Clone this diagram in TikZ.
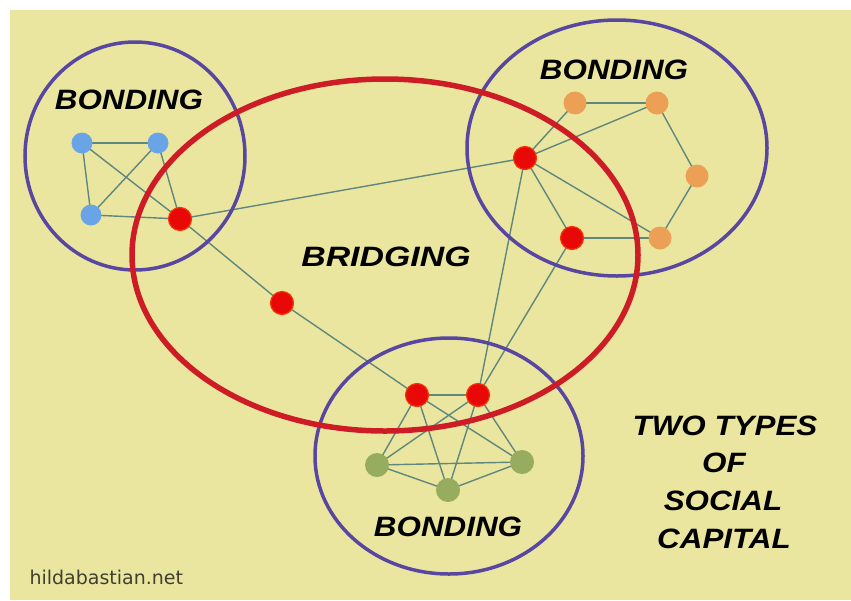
\documentclass[tikz,border=0pt]{standalone}
\usepackage{fontspec}
\usepackage{xcolor}
\newfontfamily\comicfont{Liberation Sans}
\newfontfamily\webfont{DejaVu Sans}
\usetikzlibrary{calc,positioning}
\definecolor{paper}{RGB}{234,230,160}
\definecolor{tiecol}{RGB}{95,135,125}
\definecolor{ringcol}{RGB}{88,70,160}
\definecolor{bridgecol}{RGB}{205,28,38}
\definecolor{nodered}{RGB}{232,8,8}
\definecolor{nodeblue}{RGB}{105,165,230}
\definecolor{nodeorange}{RGB}{236,160,85}
\definecolor{nodegreen}{RGB}{150,172,95}
\tikzset{hand/.style={font=\comicfont\bfseries\itshape\fontsize{28}{30}\selectfont,xscale=1.12}}

\begin{document}
\begin{tikzpicture}[x=1pt,y=-1pt,
                    link/.style={draw=tiecol,line width=1.4pt},
                    ring/.style={draw=ringcol,line width=3.5pt},
                    dot/.style={circle,inner sep=0pt},
                    red node/.style={dot,fill=nodered,draw=nodered!60!orange,line width=1.2pt,minimum size=23pt},
                    blue node/.style={dot,fill=nodeblue,minimum size=21pt},
                    orange node/.style={dot,fill=nodeorange,minimum size=23pt},
                    green node/.style={dot,fill=nodegreen,minimum size=24pt}]
 % paper
 \fill[white] (0,0) rectangle (851,600);
 \fill[paper] (10,10) rectangle (851,600);

 % left group
 \coordinate (B1) at (82,143);
 \coordinate (B2) at (158,143);
 \coordinate (B3) at (91,215);
 \coordinate (R1) at (180,219);
 % right group
 \coordinate (O1) at (575,103);
 \coordinate (O2) at (657,103);
 \coordinate (O3) at (697,176);
 \coordinate (O4) at (660,238);
 \coordinate (R2) at (525,158);
 \coordinate (R3) at (572,238);
 % middle and bottom group
 \coordinate (R6) at (282,303);
 \coordinate (R4) at (417,395);
 \coordinate (R5) at (478,395);
 \coordinate (G1) at (377,465);
 \coordinate (G2) at (448,490);
 \coordinate (G3) at (522,462);

 \foreach \a/\b in {B1/B2,B1/B3,B1/R1,B2/B3,B2/R1,B3/R1,
                    O1/O2,O2/O3,O3/O4,R3/O4,R2/O1,R2/O2,R2/O4,R2/R3,
                    R1/R2,R1/R6,R6/R4,R2/R5,R3/R5,
                    R4/R5,R4/G1,R4/G2,R4/G3,R5/G1,R5/G2,R5/G3,G1/G2,G2/G3,G1/G3}
    \draw[link] (\a)--(\b);

 % groups
 \draw[ring] (135,156) ellipse [x radius=110, y radius=114];
 \draw[ring] (617,148) ellipse [x radius=150, y radius=128];
 \draw[ring] (449,456) ellipse [x radius=134, y radius=118];
 \draw[draw=bridgecol,line width=5.5pt] (385,255) ellipse [x radius=253, y radius=176];

 \foreach \n in {B1,B2,B3} \node[blue node] (\n n) at (\n) {};
 \foreach \n in {O1,O2,O3,O4} \node[orange node] (\n n) at (\n) {};
 \foreach \n in {G1,G2,G3} \node[green node] (\n n) at (\n) {};
 \foreach \n in {R1,R2,R3,R4,R5,R6} \node[red node] (\n n) at (\n) {};

 \node[hand] (BondLeft) at (129,100) {BONDING};
 \node[hand] (BondRight) at (614,70) {BONDING};
 \node[hand] (BondLow) at (448,527) {BONDING};
 \node[hand,xscale=1.08] (Bridge) at (386,257) {BRIDGING};

 \node[hand] (Title1) at (725,426) {TWO TYPES};
 \node[hand] (Title2) at (724,463) {OF};
 \node[hand] (Title3) at (723,501) {SOCIAL};
 \node[hand] (Title4) at (724,539) {CAPITAL};

 \node[font=\webfont\fontsize{19}{20}\selectfont,text=black!70!olive,anchor=west] (Site) at (26,577) {hildabastian.net};
\end{tikzpicture}
\end{document}
